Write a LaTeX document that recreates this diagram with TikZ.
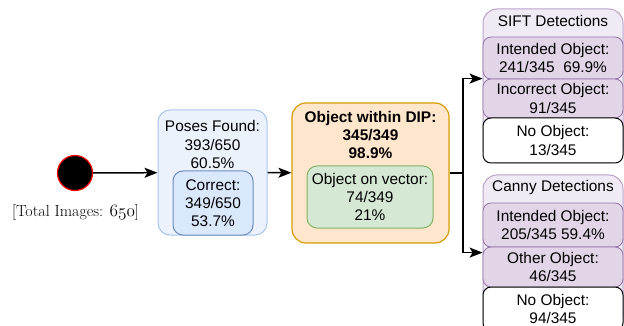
\documentclass[tikz,border=0pt]{standalone}
\usepackage{fontspec}
\setsansfont{Liberation Sans}
\usepackage{tikz}
\usetikzlibrary{shapes,arrows,arrows.meta,positioning}
\definecolor{poseFill}{HTML}{EBF2FC}
\definecolor{poseDraw}{HTML}{A9C4EB}
\definecolor{blueFill}{HTML}{DAE8FC}
\definecolor{blueDraw}{HTML}{6C8EBF}
\definecolor{orangeFill}{HTML}{FFE6CC}
\definecolor{orangeDraw}{HTML}{D79B00}
\definecolor{greenFill}{HTML}{D5E8D4}
\definecolor{greenDraw}{HTML}{82B366}
\definecolor{purpleFill}{HTML}{E1D5E7}
\definecolor{purpleDraw}{HTML}{9673A6}
\definecolor{laneFill}{HTML}{F0EAF4}
\definecolor{laneDraw}{HTML}{B9A3C8}
\newcommand{\boxfont}{\sffamily\fontsize{15.4}{18.3}\selectfont}
\tikzstyle{txt} = [align=center, font=\boxfont, inner sep=0pt]
\tikzstyle{startnode} = [circle, minimum size=35pt, fill=black, draw=red, line width=1.2pt]
\tikzstyle{posesbox} = [rectangle, rounded corners=12pt, draw=poseDraw, fill=poseFill, line width=1pt]
\tikzstyle{correctbox} = [rectangle, rounded corners=10pt, draw=blueDraw, fill=blueFill, line width=1pt, txt]
\tikzstyle{dipbox} = [rectangle, rounded corners=14pt, draw=orangeDraw, fill=orangeFill, line width=1.2pt]
\tikzstyle{vectorbox} = [rectangle, rounded corners=10pt, draw=greenDraw, fill=greenFill, line width=1pt, txt]
\tikzstyle{lane} = [rectangle, rounded corners=14pt, draw=laneDraw, fill=laneFill, line width=1pt, minimum width=140pt]
\tikzstyle{row} = [rectangle, rounded corners=8pt, draw=purpleDraw, fill=purpleFill, line width=0.8pt, minimum width=140pt, txt]
\tikzstyle{emptyrow} = [rectangle, rounded corners=8pt, draw=black, fill=white, line width=1pt, minimum width=140pt, txt]
\tikzstyle{arrow} = [line width=1.5pt,-{Stealth[length=13pt,width=10pt,inset=3pt]}]
\begin{document}
\begin{tikzpicture}[x=1pt, y=-1pt]
\useasboundingbox (0,0) rectangle (624,326);
% start
\node (start) [startnode] at (75,173) {};
\node (total) [font=\fontsize{16}{18}\selectfont, inner sep=0pt] at (75.5,212) {[Total Images: {\usefont{OML}{cmm}{m}{it}650}]};
% poses
\node (poses) [posesbox, minimum width=109pt, minimum height=125pt] at (212.5,172.5) {};
\node (posestxt) [txt] at (212.5,144.5) {Poses Found:\\393/650\\60.5\%};
\node (correct) [correctbox, minimum width=80pt, minimum height=64pt] at (213,203) {Correct:\\349/650\\53.7\%};
% object within DIP
\node (dip) [dipbox, minimum width=157pt, minimum height=140pt] at (370.5,173) {};
\node (diptxt) [txt, font=\boxfont\bfseries] at (370.5,135) {Object within DIP:\\345/349\\98.9\%};
\node (vector) [vectorbox, minimum width=126pt, minimum height=62pt] at (370,197) {Object on vector:\\74/349\\21\%};
% SIFT
\node (sift) [lane, minimum height=154pt] at (553,86) {};
\node (sifttxt) [txt] at (553,21) {SIFT Detections};
\node (siftint) [row, minimum height=42pt] at (553,58) {Intended Object:\\241/345\ \ 69.9\%};
\node (siftinc) [row, minimum height=39pt] at (553,98.5) {Incorrect Object:\\91/345};
\node (siftno) [emptyrow, minimum height=45pt] at (553,140.5) {No Object:\\13/345};
% Canny
\node (canny) [lane, minimum height=157pt] at (553,253.5) {};
\node (cannytxt) [txt] at (553,188) {Canny Detections};
\node (cannyint) [row, minimum height=44pt] at (553,225) {Intended Object:\\205/345 59.4\%};
\node (cannyoth) [row, minimum height=40pt] at (553,267) {Other Object:\\46/345};
\node (cannyno) [emptyrow, minimum height=44pt] at (553,309) {No Object:\\94/345};
% connectors
\coordinate (split) at (463,173);
\draw [arrow] (start) -- (poses);
\draw [arrow] (poses) -- (dip);
\draw [line width=1.5pt] (dip.east) -- (split);
\draw [arrow] (split) |- (siftinc.north west);
\draw [arrow] (split) |- ([yshift=-6pt]cannyoth.north west);
\end{tikzpicture}
\end{document}
